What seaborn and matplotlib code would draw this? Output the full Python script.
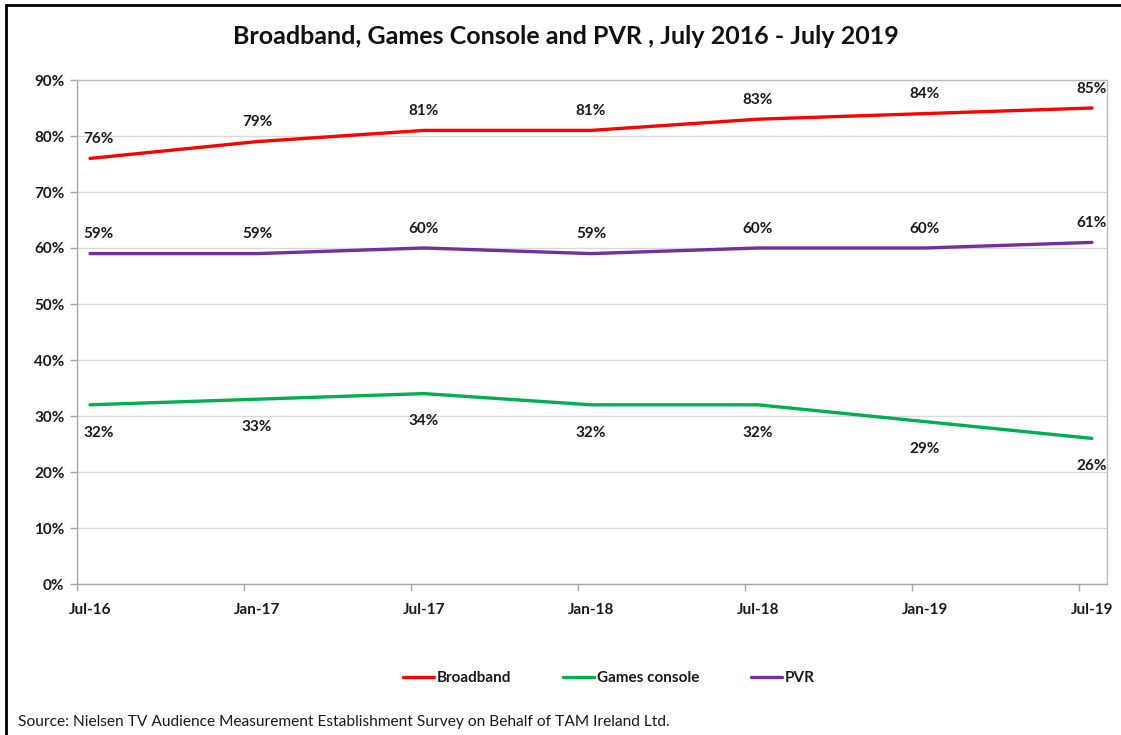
import matplotlib
matplotlib.use("Agg")
import matplotlib.pyplot as plt
from matplotlib.lines import Line2D
from matplotlib.ticker import FixedLocator, FuncFormatter
import numpy as np
import pandas as pd
import seaborn as sns

periods = ["Jul-16", "Jan-17", "Jul-17", "Jan-18", "Jul-18", "Jan-19", "Jul-19"]
broadband = [76, 79, 81, 81, 83, 84, 85]
games_console = [32, 33, 34, 32, 32, 29, 26]
pvr = [59, 59, 60, 59, 60, 60, 61]
series_names = ["Broadband", "Games console", "PVR"]
colors = ["#FF0000", "#00B050", "#7030A0"]

df = pd.DataFrame({
    "pos": list(range(len(periods))) * 3,
    "value": broadband + games_console + pvr,
    "series": [s for s in series_names for _ in periods],
})

sns.set_theme(style="white")
plt.rcParams["font.family"] = ["Lato", "DejaVu Sans"]

fig = plt.figure(figsize=(11.21, 7.35), dpi=100)
ax = fig.add_axes([77 / 1121, 1 - 584 / 735, (1107 - 77) / 1121, (584 - 80) / 735])

sns.lineplot(data=df, x="pos", y="value", hue="series", palette=colors,
             hue_order=series_names, linewidth=2.4, ax=ax, legend=False)

ax.set_xlim(-0.078, 6.09)
ax.set_ylim(0, 90)
ax.set_yticks(np.arange(0, 91, 10))
ax.yaxis.set_major_formatter(FuncFormatter(lambda v, _: f"{v:.0f}%"))
ax.yaxis.grid(True, color="#d9d9d9", linewidth=1)
ax.set_axisbelow(True)

# category labels at the points, tick marks slightly offset
ax.set_xticks(range(len(periods)))
ax.set_xticklabels(periods)
ax.xaxis.set_minor_locator(FixedLocator([i - 0.078 for i in range(len(periods))]))
ax.tick_params(axis="x", which="major", length=0, pad=14, labelsize=11)
ax.tick_params(axis="x", which="minor", length=5, width=1, color="#a6a6a6", direction="out", bottom=True)
ax.tick_params(axis="y", which="major", length=5, width=1, color="#a6a6a6", direction="out", left=True, labelsize=11, pad=4)
for lab in ax.get_xticklabels() + ax.get_yticklabels():
    lab.set_fontweight("bold")
    lab.set_color("#1a1a1a")

for side in ["left", "bottom", "right", "top"]:
    ax.spines[side].set_visible(True)
    ax.spines[side].set_color("#bfbfbf")
    ax.spines[side].set_linewidth(1)
ax.spines["left"].set_color("#a6a6a6")
ax.spines["bottom"].set_color("#a6a6a6")
ax.set_xlabel("")
ax.set_ylabel("")

# data labels (first column nudged right to stay inside the plot area)
label_offsets = {"Broadband": 14, "Games console": -20, "PVR": 14}
for name, vals in zip(series_names, [broadband, games_console, pvr]):
    for i, v in enumerate(vals):
        dx = 6 if i == 0 else 0
        ax.annotate(f"{v}%", (i, v), xytext=(dx, label_offsets[name]), textcoords="offset points",
                    ha="center", va="center", fontsize=11, fontweight="bold", color="#1a1a1a",
                    annotation_clip=False)

fig.text(566 / 1121, 1 - 37 / 735, "Broadband, Games Console and PVR , July 2016 - July 2019",
         ha="center", va="center", fontsize=18, fontweight="bold", color="#111111")

handles = [Line2D([], [], color=c, linewidth=2.4) for c in colors]
leg = fig.legend(handles, series_names, loc="center", bbox_to_anchor=(609 / 1121, 1 - 678 / 735),
                 ncol=3, frameon=False, handlelength=2.0, handletextpad=0.2, columnspacing=3.4,
                 prop={"weight": "bold", "size": 11})
for t in leg.get_texts():
    t.set_color("#1a1a1a")

fig.text(18 / 1121, 1 - 722 / 735,
         "Source: Nielsen TV Audience Measurement Establishment Survey on Behalf of TAM Ireland Ltd.",
         ha="left", va="center", fontsize=11.2, color="#1a1a1a")

# outer frame (top and left edges)
fig.add_artist(Line2D([6 / 1121, 1], [1 - 5 / 735, 1 - 5 / 735], transform=fig.transFigure,
                      color="black", linewidth=2))
fig.add_artist(Line2D([6 / 1121, 6 / 1121], [0, 1 - 5 / 735], transform=fig.transFigure,
                      color="black", linewidth=2))

fig.savefig("out.png", dpi=100, facecolor="white")
